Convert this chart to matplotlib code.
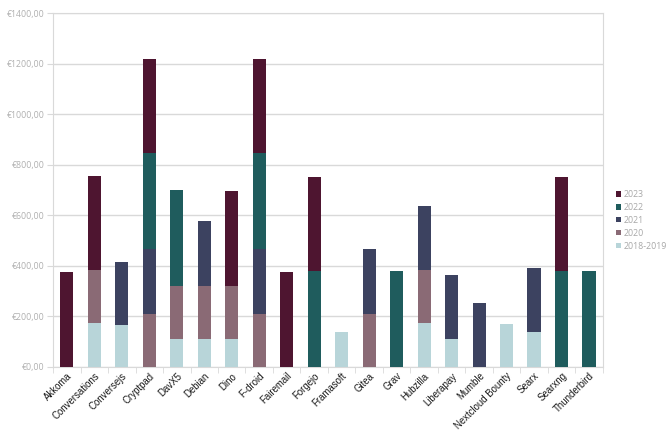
import matplotlib.pyplot as plt
import numpy as np

projetos = ['Akkoma', 'Conversations', 'Conversejs', 'Cryptpad', 'DavX5', 'Debian',
            'Dino', 'F-droid', 'Fairemail', 'Forgejo', 'Framasoft', 'Gitea', 'Grav',
            'Hubzilla', 'Liberapay', 'Mumble', 'Nextcloud Bounty', 'Searx', 'Searxng',
            'Thunderbird']

anos = ['2018-2019', '2020', '2021', '2022', '2023']
cores = ['#b8d5d9', '#8a6a75', '#3c4260', '#1f5c5d', '#4e1530']

v_2018 = [0, 172, 164, 0, 111, 111, 111, 0, 0, 0, 136, 0, 0, 172, 111, 0, 169, 136, 0, 0]
v_2020 = [0, 210, 0, 211, 210, 210, 210, 211, 0, 0, 0, 211, 0, 210, 0, 0, 0, 0, 0, 0]
v_2021 = [0, 0, 253, 255, 0, 255, 0, 255, 0, 0, 0, 254, 0, 255, 254, 254, 0, 255, 0, 0]
v_2022 = [0, 0, 0, 379, 379, 0, 0, 379, 0, 379, 0, 0, 379, 0, 0, 0, 0, 0, 379, 379]
v_2023 = [375, 375, 0, 374, 0, 0, 375, 374, 375, 374, 0, 0, 0, 0, 0, 0, 0, 0, 374, 0]

series = [v_2018, v_2020, v_2021, v_2022, v_2023]

plt.rcParams['font.family'] = ['Open Sans', 'DejaVu Sans']

fig = plt.figure(figsize=(6.72, 4.32), dpi=100)
ax = fig.add_axes([0.079, 0.151, 0.818, 0.818])

x = np.arange(len(projetos))
base = np.zeros(len(projetos))
barras = []
for ano, cor, vals in zip(anos, cores, series):
    b = ax.bar(x, vals, 0.48, bottom=base, color=cor, label=ano, zorder=3)
    barras.append(b)
    base += np.array(vals)

cinza = '#d9d9d9'
ax.set_xlim(-0.5, len(projetos) - 0.5)
ax.set_ylim(0, 1400)
ax.set_yticks(np.arange(0, 1401, 200))
ax.set_yticklabels(['€%d,00' % v for v in range(0, 1401, 200)], fontsize=6.3, color='#b0b0b0')
ax.yaxis.grid(True, color=cinza, linewidth=1, zorder=0)
ax.tick_params(axis='y', length=4, color=cinza, pad=2)

ax.set_xticks(x)
ax.set_xticklabels(projetos, rotation=45, ha='right', rotation_mode='anchor',
                   fontsize=6.9, color='#1a1a1a', family='Liberation Sans')
ax.set_xticks(np.arange(-0.5, len(projetos)), minor=True)
ax.tick_params(axis='x', which='major', length=0, pad=3)
ax.tick_params(axis='x', which='minor', length=4, color=cinza)

for s in ax.spines.values():
    s.set_color(cinza)

h = barras[::-1]
leg = ax.legend(h, anos[::-1], loc='upper left', bbox_to_anchor=(1.018, 0.51),
                frameon=False, fontsize=6.3, handlelength=0.55, handleheight=0.55,
                handletextpad=0.35, labelspacing=0.45, borderaxespad=0)
for t in leg.get_texts():
    t.set_color('#a8a8a8')

fig.savefig('out.png', dpi=100)
